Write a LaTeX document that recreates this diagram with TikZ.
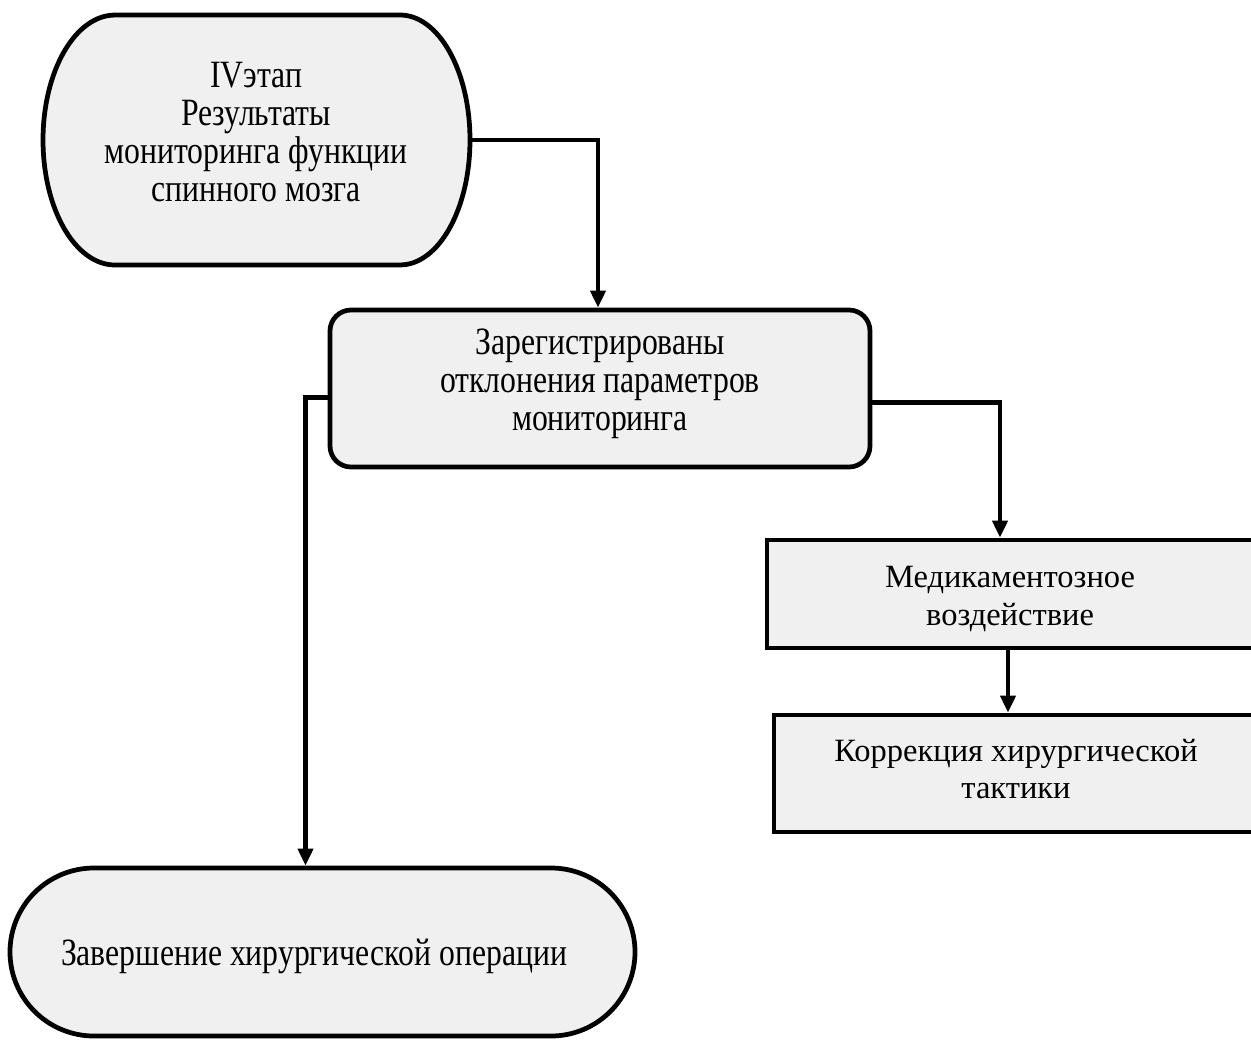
\documentclass[tikz,border=0pt]{standalone}
\usepackage{fontspec}
\setmainfont{Liberation Serif}
\newfontfamily\condfont{Liberation Serif}[FakeStretch=0.82]
\usetikzlibrary{arrows.meta,calc,shapes.misc}
\definecolor{boxfill}{HTML}{F0F0F0}
\begin{document}
\begin{tikzpicture}[x=0.02cm,y=-0.02cm,
  boxline/.style={line width=2.7pt,draw=black,fill=boxfill},
  conn/.style={line width=2.3pt,-{Triangle[width=0.3cm,length=0.34cm]}},
  txt/.style={align=center,font=\fontsize{18.5}{21.6}\selectfont},
  ctxt/.style={align=center,font=\condfont\fontsize{22}{21.6}\selectfont}
]
\useasboundingbox (0,0) rectangle (1251,1039);
% top shape with elliptical sides
\draw[boxline] (115,15) -- (400,15)
  arc[start angle=90,end angle=-90,x radius=1.4cm,y radius=2.5cm]
  -- (115,265)
  arc[start angle=270,end angle=90,x radius=1.44cm,y radius=2.5cm] -- cycle;
\node[minimum width=427*0.02cm,minimum height=250*0.02cm,inner sep=0pt] (b1) at (256.5,140) {};
\node[ctxt] at (256,132) {IVэтап\\Результаты\\мониторинга функции\\спинного мозга};
% box 2
\node[boxline,rounded corners=0.42cm,minimum width=540*0.02cm,minimum height=157*0.02cm,inner sep=0pt] (b2) at (600,388.5) {};
\node[ctxt] at (600,384) {Зарегистрированы\\отклонения параметров\\мониторинга};
% box 3
\node[boxline,minimum width=500*0.02cm,minimum height=108*0.02cm,inner sep=0pt] (b3) at (1017,594) {};
\node[txt] at (1010,599) {Медикаментозное\\воздействие};
% box 5
\node[boxline,minimum width=490*0.02cm,minimum height=117*0.02cm,inner sep=0pt] (b5) at (1019,773.5) {};
\node[txt] at (1016,769) {Коррекция хирургической\\тактики};
% bottom stadium
\node[boxline,rounded rectangle,minimum width=625*0.02cm,minimum height=168*0.02cm,inner sep=0pt] (b4) at (322.5,952) {};
\node[ctxt] at (314,956) {Завершение хирургической операции};
% connectors
\draw[conn] (b1.east) -| ($(b2.north)+(-2,0)$);
\draw[conn] ($(b2.west)+(0,9)$) -| ($(b4.north)+(-17,0)$);
\draw[conn] ($(b2.east)+(0,14)$) -| ($(b3.north)+(-17,0)$);
\draw[conn] ($(b3.south)+(-9,0)$) -- ($(b5.north)+(-11,0)$);
\end{tikzpicture}
\end{document}
